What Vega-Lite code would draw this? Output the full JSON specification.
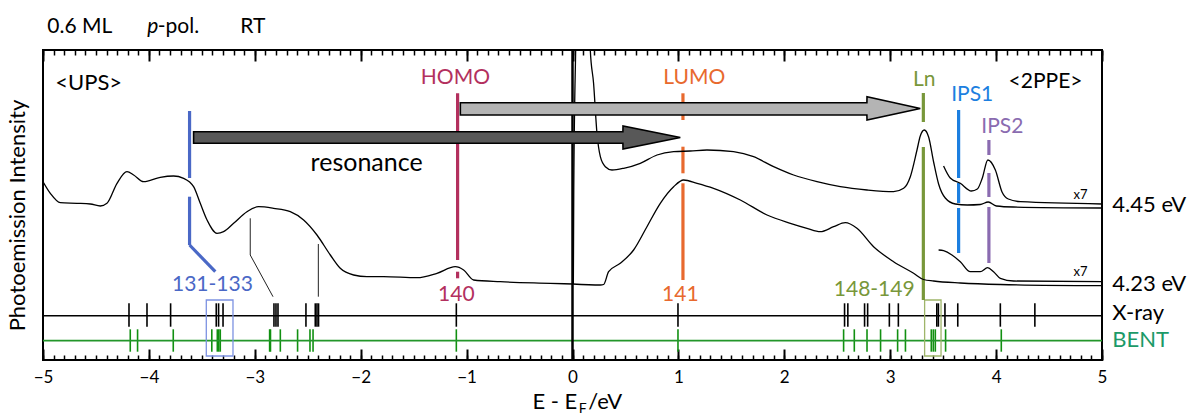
{
  "$schema": "https://vega.github.io/schema/vega-lite/v6.json",
  "width": 1059,
  "height": 310,
  "autosize": "none",
  "padding": {"left": 43, "top": 50, "right": 87, "bottom": 55},
  "config": {
    "font": "Lato",
    "view": {"stroke": "black", "strokeWidth": 2},
    "axis": {"grid": false}
  },
  "resolve": {"axis": {"x": "independent", "y": "independent"}},
  "datasets": {
    "curves": [
      {"s":"UPS","E":-5.0,"v":178.3},{"s":"UPS","E":-4.931,"v":166.7},{"s":"UPS","E":-4.837,"v":157.3},{"s":"UPS","E":-4.679,"v":156.7},{"s":"UPS","E":-4.553,"v":156},{"s":"UPS","E":-4.459,"v":154},{"s":"UPS","E":-4.396,"v":156.7},{"s":"UPS","E":-4.301,"v":176.7},{"s":"UPS","E":-4.207,"v":188.3},{"s":"UPS","E":-4.144,"v":185},{"s":"UPS","E":-4.05,"v":178.3},{"s":"UPS","E":-3.893,"v":182.7},{"s":"UPS","E":-3.767,"v":184},{"s":"UPS","E":-3.672,"v":181.7},{"s":"UPS","E":-3.578,"v":173.3},{"s":"UPS","E":-3.515,"v":156.7},{"s":"UPS","E":-3.451,"v":140},{"s":"UPS","E":-3.357,"v":126.7},{"s":"UPS","E":-3.295,"v":128.3},{"s":"UPS","E":-3.2,"v":136.7},{"s":"UPS","E":-3.074,"v":148.3},{"s":"UPS","E":-2.964,"v":153.3},{"s":"UPS","E":-2.822,"v":151.7},{"s":"UPS","E":-2.665,"v":148.3},{"s":"UPS","E":-2.539,"v":140},{"s":"UPS","E":-2.413,"v":125},{"s":"UPS","E":-2.287,"v":105},{"s":"UPS","E":-2.193,"v":91.7},{"s":"UPS","E":-2.067,"v":85},{"s":"UPS","E":-1.941,"v":83.3},{"s":"UPS","E":-1.784,"v":83.3},{"s":"UPS","E":-1.468,"v":82.3},{"s":"UPS","E":-1.28,"v":86.7},{"s":"UPS","E":-1.107,"v":93.3},{"s":"UPS","E":-1.028,"v":90},{"s":"UPS","E":-0.934,"v":80},{"s":"UPS","E":-0.682,"v":78.3},{"s":"UPS","E":-0.21,"v":76.7},{"s":"UPS","E":0.0,"v":76},
      {"s":"4.23","E":0.0,"v":76},{"s":"4.23","E":0.263,"v":75},{"s":"4.23","E":0.294,"v":75.5},{"s":"4.23","E":0.341,"v":88.3},{"s":"4.23","E":0.451,"v":96.7},{"s":"4.23","E":0.577,"v":110},{"s":"4.23","E":0.703,"v":133.3},{"s":"4.23","E":0.829,"v":156.7},{"s":"4.23","E":0.955,"v":173.3},{"s":"4.23","E":1.049,"v":180},{"s":"4.23","E":1.176,"v":176.7},{"s":"4.23","E":1.332,"v":171.7},{"s":"4.23","E":1.585,"v":160},{"s":"4.23","E":1.837,"v":145},{"s":"4.23","E":2.057,"v":136.7},{"s":"4.23","E":2.214,"v":131.7},{"s":"4.23","E":2.34,"v":128.3},{"s":"4.23","E":2.466,"v":133.3},{"s":"4.23","E":2.576,"v":137.3},{"s":"4.23","E":2.686,"v":131.7},{"s":"4.23","E":2.843,"v":113.3},{"s":"4.23","E":3.032,"v":98.3},{"s":"4.23","E":3.221,"v":86.7},{"s":"4.23","E":3.315,"v":80.5},{"s":"4.23","E":3.41,"v":79},{"s":"4.23","E":3.662,"v":77},{"s":"4.23","E":4.04,"v":75.5},{"s":"4.23","E":5.0,"v":74.3},
      {"s":"4.23x7","E":3.457,"v":110},{"s":"4.23x7","E":3.504,"v":109.3},{"s":"4.23x7","E":3.583,"v":105},{"s":"4.23x7","E":3.662,"v":98.3},{"s":"4.23x7","E":3.756,"v":88.3},{"s":"4.23x7","E":3.851,"v":88.3},{"s":"4.23x7","E":3.92,"v":92.3},{"s":"4.23x7","E":3.976,"v":88.3},{"s":"4.23x7","E":4.04,"v":81.7},{"s":"4.23x7","E":4.165,"v":79},{"s":"4.23x7","E":5.0,"v":78.3},
      {"s":"4.45","E":0.008,"v":76},{"s":"4.45","E":0.012,"v":170},{"s":"4.45","E":0.03,"v":310},{"s":"4.45","E":0.05,"v":400},{"s":"4.45","E":0.14,"v":420},{"s":"4.45","E":0.168,"v":310},{"s":"4.45","E":0.199,"v":276.7},{"s":"4.45","E":0.231,"v":226.7},{"s":"4.45","E":0.263,"v":203.3},{"s":"4.45","E":0.31,"v":193.3},{"s":"4.45","E":0.373,"v":190},{"s":"4.45","E":0.483,"v":191.7},{"s":"4.45","E":0.64,"v":196.7},{"s":"4.45","E":0.798,"v":205},{"s":"4.45","E":0.955,"v":208.3},{"s":"4.45","E":1.112,"v":209},{"s":"4.45","E":1.27,"v":210},{"s":"4.45","E":1.521,"v":208.3},{"s":"4.45","E":1.71,"v":203.3},{"s":"4.45","E":1.899,"v":193.3},{"s":"4.45","E":2.088,"v":185},{"s":"4.45","E":2.309,"v":178.3},{"s":"4.45","E":2.529,"v":173.3},{"s":"4.45","E":2.781,"v":170},{"s":"4.45","E":3.032,"v":168.3},{"s":"4.45","E":3.127,"v":171.7},{"s":"4.45","E":3.19,"v":183.3},{"s":"4.45","E":3.253,"v":210},{"s":"4.45","E":3.284,"v":224},{"s":"4.45","E":3.322,"v":230},{"s":"4.45","E":3.363,"v":223},{"s":"4.45","E":3.41,"v":198},{"s":"4.45","E":3.457,"v":176},{"s":"4.45","E":3.52,"v":162},{"s":"4.45","E":3.615,"v":156},{"s":"4.45","E":3.728,"v":155},{"s":"4.45","E":3.85,"v":155.5},{"s":"4.45","E":3.926,"v":158},{"s":"4.45","E":4.002,"v":154},{"s":"4.45","E":4.162,"v":153},{"s":"4.45","E":5.0,"v":152},
      {"s":"4.45x7","E":3.504,"v":194},{"s":"4.45x7","E":3.567,"v":182},{"s":"4.45x7","E":3.662,"v":176.7},{"s":"4.45x7","E":3.766,"v":169},{"s":"4.45x7","E":3.823,"v":171},{"s":"4.45x7","E":3.87,"v":182},{"s":"4.45x7","E":3.922,"v":200},{"s":"4.45x7","E":3.993,"v":190},{"s":"4.45x7","E":4.056,"v":168},{"s":"4.45x7","E":4.115,"v":161},{"s":"4.45x7","E":4.229,"v":158.3},{"s":"4.45x7","E":5.0,"v":156}
    ],
    "refs": [
      {"k":"131-133","E":-3.616,"E2":-3.616,"v":249,"v2":182},
      {"k":"131-133","E":-3.616,"E2":-3.616,"v":163.3,"v2":115},
      {"k":"131-133","E":-3.616,"E2":-3.373,"v":115,"v2":88.3},
      {"k":"HOMO","E":-1.085,"E2":-1.085,"v":266.7,"v2":100},
      {"k":"HOMO","E":-1.085,"E2":-1.085,"v":88.3,"v2":81.7},
      {"k":"LUMO","E":1.043,"E2":1.043,"v":266.7,"v2":240},
      {"k":"LUMO","E":1.043,"E2":1.043,"v":213.3,"v2":186.7},
      {"k":"LUMO","E":1.043,"E2":1.043,"v":176.7,"v2":80},
      {"k":"Ln","E":3.313,"E2":3.313,"v":267,"v2":238},
      {"k":"Ln","E":3.313,"E2":3.313,"v":213,"v2":60},
      {"k":"IPS1","E":3.646,"E2":3.646,"v":250,"v2":182},
      {"k":"IPS1","E":3.646,"E2":3.646,"v":177,"v2":157},
      {"k":"IPS1","E":3.646,"E2":3.646,"v":152,"v2":107},
      {"k":"IPS2","E":3.932,"E2":3.932,"v":220,"v2":205},
      {"k":"IPS2","E":3.932,"E2":3.932,"v":187,"v2":163},
      {"k":"IPS2","E":3.932,"E2":3.932,"v":153,"v2":97}
    ],
    "connectors": [
      {"E":-3.043,"E2":-3.043,"v":141.7,"v2":105},
      {"E":-3.043,"E2":-2.828,"v":105,"v2":63.3},
      {"E":-2.4,"E2":-2.4,"v":116,"v2":63.3}
    ],
    "boxes": [
      {"k":"box131","E":-3.458,"E2":-3.206,"v":4,"v2":60},
      {"k":"box148","E":3.325,"E2":3.48,"v":4,"v2":60}
    ],
    "xray": [
      {"E":-4.188},{"E":-4.018},{"E":-3.795},{"E":-3.364},{"E":-3.342},{"E":-3.3},{"E":-2.819},{"E":-2.8},{"E":-2.781},{"E":-2.517},{"E":-2.429},{"E":-2.413},{"E":-2.398},{"E":-1.097},{"E":0.996},{"E":2.569},{"E":2.6},{"E":2.758},{"E":2.787},{"E":2.992},{"E":3.077},{"E":3.44},{"E":3.455},{"E":3.517},{"E":3.638},{"E":4.04},{"E":4.366}
    ],
    "bent": [
      {"E":-4.176},{"E":-4.107},{"E":-3.77},{"E":-3.406},{"E":-3.354},{"E":-3.34},{"E":-3.326},{"E":-2.86},{"E":-2.852},{"E":-2.759},{"E":-2.596},{"E":-2.479},{"E":-2.45},{"E":-1.097},{"E":0.996},{"E":2.56},{"E":2.661},{"E":2.781},{"E":2.909},{"E":3.07},{"E":3.144},{"E":3.388},{"E":3.407},{"E":3.426},{"E":3.523},{"E":4.049}
    ],
    "arrows": [
      {"a":"res","E":-3.578,"lo":216.7,"hi":228.3},
      {"a":"res","E":0.476,"lo":216.7,"hi":228.3},
      {"a":"res","E":0.477,"lo":211,"hi":234},
      {"a":"res","E":1.018,"lo":222.5,"hi":222.5},
      {"a":"up","E":-1.059,"lo":245,"hi":257.3},
      {"a":"up","E":2.780,"lo":245,"hi":257.3},
      {"a":"up","E":2.781,"lo":240,"hi":263.3},
      {"a":"up","E":3.284,"lo":251.5,"hi":251.5}
    ],
    "labc": [
      {"t":"HOMO","k":"HOMO","E":-1.106,"v":282},
      {"t":"LUMO","k":"LUMO","E":1.15,"v":282},
      {"t":"Ln","k":"Ln","E":3.322,"v":280},
      {"t":"IPS1","k":"IPS1","E":3.775,"v":265},
      {"t":"IPS2","k":"IPS2","E":4.059,"v":233},
      {"t":"131-133","k":"131-133","E":-3.4,"v":75},
      {"t":"140","k":"HOMO","E":-1.097,"v":65},
      {"t":"141","k":"LUMO","E":1.018,"v":65},
      {"t":"148-149","k":"Ln","E":2.849,"v":70},
      {"t":"<2PPE>","k":"black","E":4.467,"v":278}
    ],
    "labl": [
      {"t":"<UPS>","k":"black","E":-4.884,"v":277},
      {"t":"4.45 eV","k":"black","E":5.097,"v":155},
      {"t":"4.23 eV","k":"black","E":5.097,"v":76},
      {"t":"X-ray","k":"black","E":5.097,"v":47},
      {"t":"BENT","k":"bent","E":5.097,"v":20}
    ]
  },
  "layer": [
    {
      "data": {"name": "xray"},
      "mark": {"type": "rule", "color": "black", "strokeWidth": 1.6},
      "encoding": {
        "x": {"field": "E", "type": "quantitative", "scale": {"domain": [-5, 5], "nice": false, "zero": false},
              "axis": {"orient": "bottom", "labels": false, "domain": false, "ticks": true, "tickSize": -11, "tickWidth": 2, "tickColor": "black", "values": [-5,-4,-3,-2,-1,0,1,2,3,4,5], "title": null}},
        "y": {"datum": 33.3, "type": "quantitative", "scale": {"domain": [0, 310], "nice": false, "zero": false}, "axis": null},
        "y2": {"datum": 56.7}
      }
    },
    {
      "data": {"name": "bent"},
      "mark": {"type": "rule", "color": "#119011", "strokeWidth": 1.6},
      "encoding": {
        "x": {"field": "E", "type": "quantitative",
              "axis": {"orient": "bottom", "labels": false, "domain": false, "ticks": true, "tickSize": -5, "tickWidth": 1.5, "tickColor": "black", "tickCount": 100, "title": null}},
        "y": {"datum": 8.3, "type": "quantitative", "axis": null},
        "y2": {"datum": 30.7}
      }
    },
    {
      "data": {"values": [{"E": -5, "E2": 5}]},
      "mark": {"type": "rule", "color": "black", "strokeWidth": 1.4},
      "encoding": {
        "x": {"field": "E", "type": "quantitative", "axis": null},
        "x2": {"field": "E2"},
        "y": {"datum": 44.3, "type": "quantitative", "axis": null}
      }
    },
    {
      "data": {"values": [{"E": -5, "E2": 5}]},
      "mark": {"type": "rule", "color": "#23962a", "strokeWidth": 1.8},
      "encoding": {
        "x": {"field": "E", "type": "quantitative", "axis": null},
        "x2": {"field": "E2"},
        "y": {"datum": 19.3, "type": "quantitative", "axis": null}
      }
    },
    {
      "data": {"name": "boxes"},
      "mark": {"type": "rect", "filled": false, "strokeWidth": 1.3},
      "encoding": {
        "x": {"field": "E", "type": "quantitative",
              "axis": {"orient": "top", "labels": false, "domain": false, "ticks": true, "tickSize": -11, "tickWidth": 2, "tickColor": "black", "values": [-5,-4,-3,-2,-1,0,1,2,3,4,5], "title": null}},
        "x2": {"field": "E2"},
        "y": {"field": "v", "type": "quantitative", "axis": null},
        "y2": {"field": "v2"},
        "color": {"field": "k", "type": "nominal", "legend": null,
                  "scale": {"domain": ["131-133","HOMO","LUMO","Ln","IPS1","IPS2","box131","box148","black","bent"],
                            "range": ["#4a68c6","#b3305e","#e8692e","#78973a","#1c7fe0","#8a6bb0","#7d92e2","#9fb56a","#000000","#1c9a68"]}}
      }
    },
    {
      "data": {"values": [{"E": 0}]},
      "mark": {"type": "rule", "color": "black", "strokeWidth": 2.5},
      "encoding": {
        "x": {"field": "E", "type": "quantitative", "axis": null},
        "y": {"datum": 0, "type": "quantitative", "axis": null},
        "y2": {"datum": 310}
      }
    },
    {
      "data": {"name": "refs"},
      "mark": {"type": "rule", "strokeWidth": 3.2},
      "encoding": {
        "x": {"field": "E", "type": "quantitative",
              "axis": {"orient": "top", "labels": false, "domain": false, "ticks": true, "tickSize": -5, "tickWidth": 1.5, "tickColor": "black", "tickCount": 100, "title": null}},
        "x2": {"field": "E2"},
        "y": {"field": "v", "type": "quantitative", "axis": null},
        "y2": {"field": "v2"},
        "color": {"field": "k", "type": "nominal", "legend": null}
      }
    },
    {
      "data": {"name": "connectors"},
      "mark": {"type": "rule", "color": "#222222", "strokeWidth": 1},
      "encoding": {
        "x": {"field": "E", "type": "quantitative", "axis": null},
        "x2": {"field": "E2"},
        "y": {"field": "v", "type": "quantitative", "axis": null},
        "y2": {"field": "v2"}
      }
    },
    {
      "data": {"name": "curves"},
      "mark": {"type": "line", "color": "black", "strokeWidth": 1.3, "interpolate": "monotone", "clip": true},
      "encoding": {
        "x": {"field": "E", "type": "quantitative",
              "axis": {"orient": "bottom", "ticks": false, "domain": false, "labels": true, "labelFontSize": 17, "labelPadding": 9, "labelColor": "black", "values": [-5,-4,-3,-2,-1,0,1,2,3,4,5], "labelFlush": false, "labelOverlap": false, "title": null}},
        "y": {"field": "v", "type": "quantitative",
              "axis": {"orient": "left", "labels": false, "ticks": false, "domain": false, "title": "Photoemission Intensity", "titleFontSize": 22, "titleFontWeight": "normal", "titleColor": "black", "titlePadding": 14, "titleY": 165}},
        "detail": {"field": "s", "type": "nominal"}
      }
    },
    {
      "data": {"name": "arrows"},
      "transform": [{"filter": "datum.a === 'res'"}],
      "mark": {"type": "area", "fill": "#585858", "stroke": "black", "strokeWidth": 1.6, "interpolate": "linear", "orient": "vertical"},
      "encoding": {
        "x": {"field": "E", "type": "quantitative", "axis": null},
        "y": {"field": "lo", "type": "quantitative", "axis": null, "stack": null},
        "y2": {"field": "hi"}
      }
    },
    {
      "data": {"name": "arrows"},
      "transform": [{"filter": "datum.a === 'up'"}],
      "mark": {"type": "area", "fill": "#b4b4b4", "stroke": "black", "strokeWidth": 1.6, "interpolate": "linear", "orient": "vertical"},
      "encoding": {
        "x": {"field": "E", "type": "quantitative", "axis": null},
        "y": {"field": "lo", "type": "quantitative", "axis": null, "stack": null},
        "y2": {"field": "hi"}
      }
    },
    {
      "data": {"name": "labc"},
      "mark": {"type": "text", "fontSize": 21, "align": "center", "baseline": "middle"},
      "encoding": {
        "x": {"field": "E", "type": "quantitative", "axis": null},
        "y": {"field": "v", "type": "quantitative", "axis": null},
        "text": {"field": "t"},
        "color": {"field": "k", "type": "nominal", "legend": null}
      }
    },
    {
      "data": {"name": "labl"},
      "mark": {"type": "text", "fontSize": 22, "align": "left", "baseline": "middle"},
      "encoding": {
        "x": {"field": "E", "type": "quantitative", "axis": null},
        "y": {"field": "v", "type": "quantitative", "axis": null},
        "text": {"field": "t"},
        "color": {"field": "k", "type": "nominal", "legend": null}
      }
    },
    {
      "data": {"values": [{"t": "resonance", "E": -1.944, "v": 197}]},
      "mark": {"type": "text", "fontSize": 25, "align": "center", "baseline": "middle", "color": "black"},
      "encoding": {
        "x": {"field": "E", "type": "quantitative", "axis": null},
        "y": {"field": "v", "type": "quantitative", "axis": null},
        "text": {"field": "t"}
      }
    },
    {
      "data": {"values": [{"t": "x7", "E": 4.797, "v": 165}, {"t": "x7", "E": 4.797, "v": 88}]},
      "mark": {"type": "text", "fontSize": 13, "align": "center", "baseline": "middle", "color": "black"},
      "encoding": {
        "x": {"field": "E", "type": "quantitative", "axis": null},
        "y": {"field": "v", "type": "quantitative", "axis": null},
        "text": {"field": "t"}
      }
    },
    {
      "data": {"values": [
        {"t": "0.6 ML", "E": -4.959, "v": 326.7},
        {"t": "-pol.", "E": -3.916, "v": 326.7},
        {"t": "RT", "E": -3.137, "v": 326.7}
      ]},
      "mark": {"type": "text", "fontSize": 21, "align": "left", "baseline": "alphabetic", "color": "black"},
      "encoding": {
        "x": {"field": "E", "type": "quantitative", "axis": null},
        "y": {"field": "v", "type": "quantitative", "axis": null},
        "text": {"field": "t"}
      }
    },
    {
      "data": {"values": [{"t": "E - E", "E": 0.045, "v": -49}]},
      "mark": {"type": "text", "fontSize": 22, "align": "right", "baseline": "alphabetic", "color": "black"},
      "encoding": {
        "x": {"field": "E", "type": "quantitative", "axis": null},
        "y": {"field": "v", "type": "quantitative", "axis": null},
        "text": {"field": "t"}
      }
    },
    {
      "data": {"values": [{"t": "/eV", "E": 0.149, "v": -49}]},
      "mark": {"type": "text", "fontSize": 22, "align": "left", "baseline": "alphabetic", "color": "black"},
      "encoding": {
        "x": {"field": "E", "type": "quantitative", "axis": null},
        "y": {"field": "v", "type": "quantitative", "axis": null},
        "text": {"field": "t"}
      }
    },
    {
      "data": {"values": [{"t": "p", "E": -4.015, "v": 326.7}]},
      "mark": {"type": "text", "fontSize": 21, "fontStyle": "italic", "align": "left", "baseline": "alphabetic", "color": "black"},
      "encoding": {
        "x": {"field": "E", "type": "quantitative", "axis": null},
        "y": {"field": "v", "type": "quantitative", "axis": null},
        "text": {"field": "t"}
      }
    },
    {
      "data": {"values": [{"t": "F", "E": 0.058, "v": -53}]},
      "mark": {"type": "text", "fontSize": 14, "align": "left", "baseline": "alphabetic", "color": "black"},
      "encoding": {
        "x": {"field": "E", "type": "quantitative", "axis": null},
        "y": {"field": "v", "type": "quantitative", "axis": null},
        "text": {"field": "t"}
      }
    }
  ]
}
